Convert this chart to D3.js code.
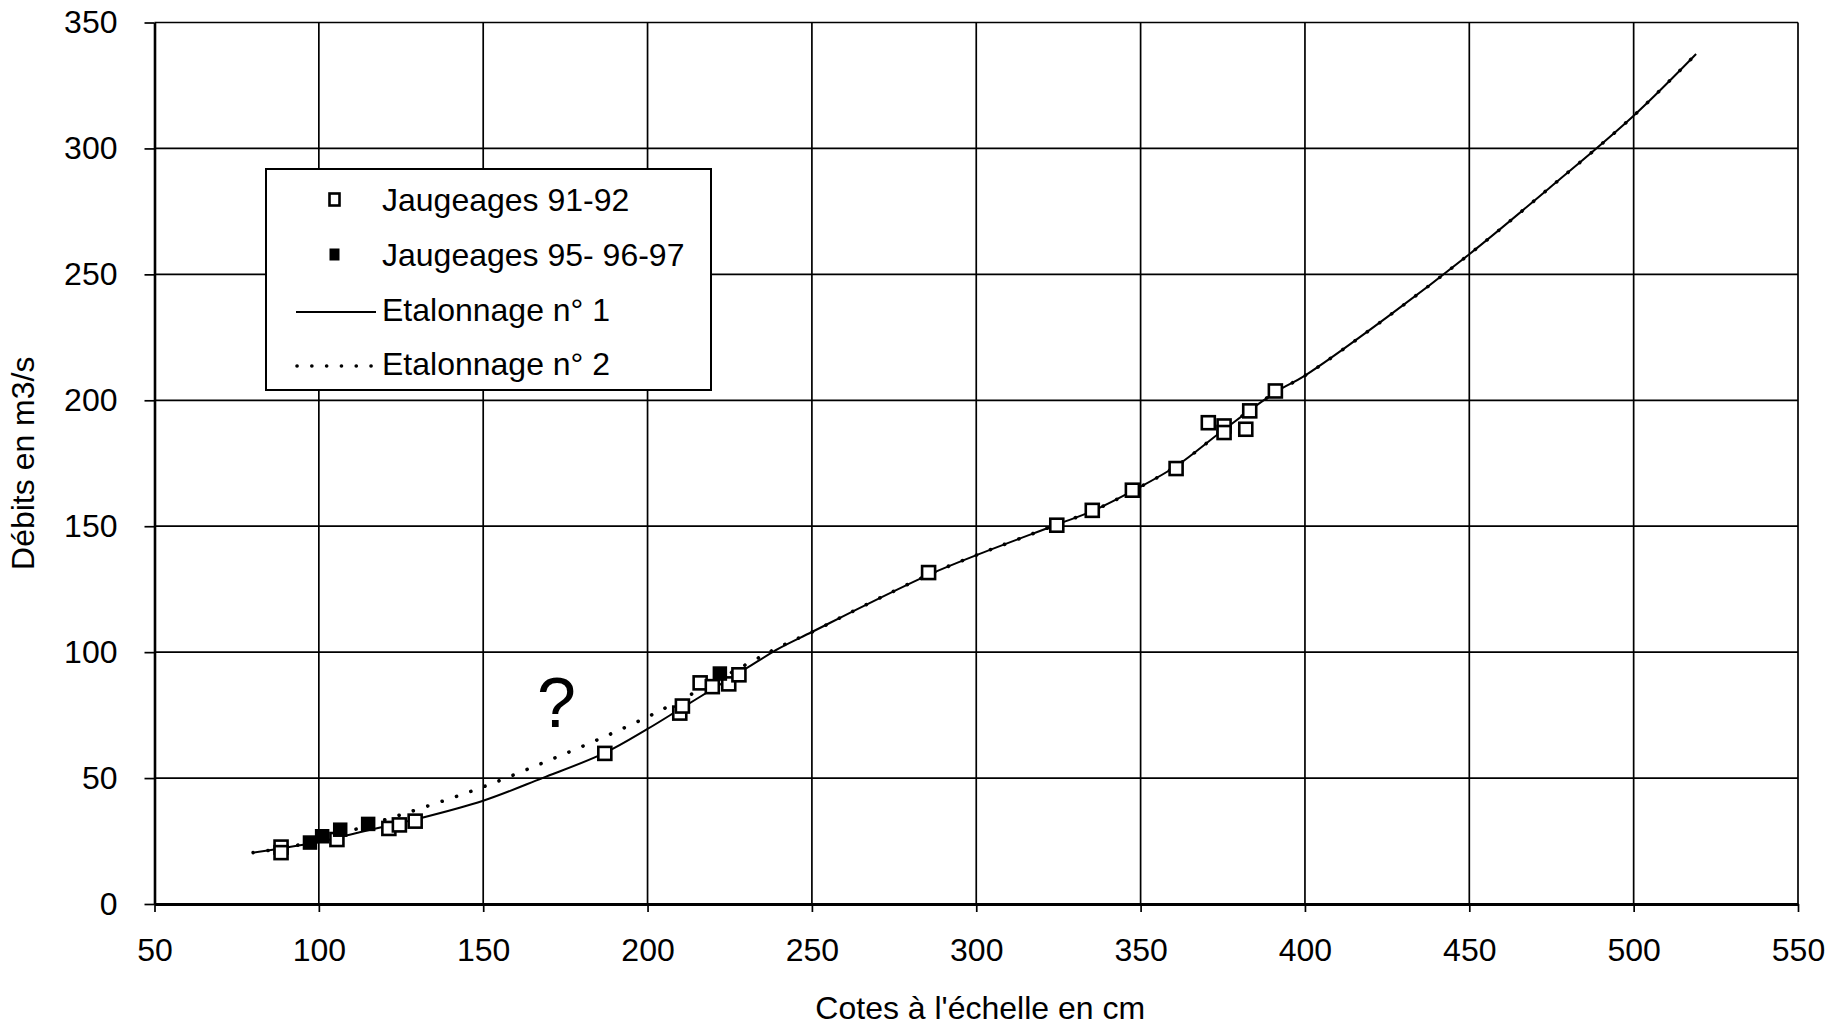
<!DOCTYPE html>
<html>
<head>
<meta charset="utf-8">
<script src="https://cdn.jsdelivr.net/npm/d3@7"></script>
<style>
  body { margin: 0; background: #fff; }
  text { font-family: "Liberation Sans", Arial, sans-serif; fill: #000; }
</style>
</head>
<body>
<svg id="chart"></svg>
<script>
// tick values
const xTicks = [50, 100, 150, 200, 250, 300, 350, 400, 450, 500, 550];
const yTicks = [0, 50, 100, 150, 200, 250, 300, 350];

// Jaugeages 91-92 (open squares)
const jaug9192X = [88.5, 88.5, 105.5, 121.3, 124.5, 129.3, 187, 209.8, 210.6, 216, 219.7, 224.7, 227.8, 285.5, 324.5, 335.3, 347.5, 360.8, 370.6, 375.4, 375.4, 382, 383.2, 391];
const jaug9192Y = [22.6, 20.4, 25.6, 30, 31.4, 32.9, 59.8, 75.8, 78.6, 87.8, 86.3, 87.4, 91, 131.6, 150.4, 156.3, 164.3, 172.9, 191.1, 189.8, 187.2, 188.5, 195.8, 203.7];

// Jaugeages 95- 96-97 (filled squares)
const jaug95X = [97.3, 101, 106.5, 115, 222];
const jaug95Y = [24.4, 26.9, 29.5, 31.8, 91.5];

// Etalonnage n° 1 (solid)
const etal1X = [80, 90, 100, 110, 120, 130, 150, 168, 187, 200, 210, 220, 230, 240, 250, 266, 286, 300, 324, 336, 348, 361, 375, 391, 400, 425, 450, 475, 500, 519];
const etal1Y = [20.4, 22.4, 24.6, 27.7, 30.8, 33.8, 41, 50, 60, 69.5, 77.5, 85.5, 93.5, 101.5, 108, 118.5, 131, 138.5, 150.4, 156.4, 164.3, 174, 188, 203.2, 209.8, 233, 258, 285, 313, 337.5];

// Etalonnage n° 2 (dotted)
const etal2X = [80, 90, 100, 110, 120, 132, 150, 168.5, 186, 200, 210, 220, 232, 240, 250, 266, 286, 300, 324, 336, 348, 361, 375, 391, 400, 425, 450, 475, 500, 519];
const etal2Y = [20.4, 22.4, 25.4, 29.2, 33.4, 38.4, 46.5, 56.2, 65.9, 74.3, 81, 88, 96.5, 102, 108, 118.5, 131, 138.5, 150.4, 156.4, 164.3, 174, 188, 203.2, 209.8, 233, 258, 285, 313, 337.5];

const legendLabels = ["Jaugeages 91-92", "Jaugeages 95- 96-97", "Etalonnage n° 1", "Etalonnage n° 2"];

const WIDTH = 1830, HEIGHT = 1030;
const MARGIN = { left: 154.5, right: 32, top: 22.5, bottom: 126 };
const FONT = 32;

let svg = d3.select('#chart')
    .attr('width', WIDTH)
    .attr('height', HEIGHT);
svg.append('rect').attr('width', WIDTH).attr('height', HEIGHT).attr('fill', '#fff');

let xScale = d3.scaleLinear()
    .domain([50, 550])
    .range([MARGIN.left, WIDTH - MARGIN.right]);
let yScale = d3.scaleLinear()
    .domain([0, 350])
    .range([HEIGHT - MARGIN.bottom, MARGIN.top]);

// grid lines
svg.append('g')
    .selectAll('line')
    .data(xTicks.slice(1))
    .join('line')
    .attr('x1', d => xScale(d)).attr('x2', d => xScale(d))
    .attr('y1', yScale(350)).attr('y2', yScale(0))
    .attr('stroke', '#000').attr('stroke-width', 1.7);
svg.append('g')
    .selectAll('line')
    .data(yTicks.slice(1))
    .join('line')
    .attr('x1', xScale(50)).attr('x2', xScale(550))
    .attr('y1', d => yScale(d)).attr('y2', d => yScale(d))
    .attr('stroke', '#000').attr('stroke-width', 1.7);

// axes
let yAxis = svg.append('g')
    .attr('transform', `translate(${xScale(50)},0)`)
    .call(d3.axisLeft(yScale).tickValues(yTicks).tickSize(10).tickPadding(27).tickSizeOuter(0));
let xAxis = svg.append('g')
    .attr('transform', `translate(0,${yScale(0)})`)
    .call(d3.axisBottom(xScale).tickValues(xTicks).tickSize(8).tickPadding(26).tickSizeOuter(0));
[xAxis, yAxis].forEach(a => {
    a.selectAll('text').attr('font-size', FONT).attr('font-family', '"Liberation Sans", Arial, sans-serif').attr('fill', '#000');
    a.selectAll('line').attr('stroke', '#000').attr('stroke-width', 1.7);
});
yAxis.select('.domain').attr('stroke', '#000').attr('stroke-width', 2.6);
xAxis.select('.domain').attr('stroke', '#000').attr('stroke-width', 3);

// axis titles
svg.append('text')
    .text("Cotes à l'échelle en cm")
    .attr('x', (xScale(50) + xScale(550)) / 2 + 4)
    .attr('y', 1019)
    .attr('text-anchor', 'middle')
    .attr('font-size', FONT);
svg.append('text')
    .text('Débits en m3/s')
    .attr('transform', `translate(33.5, ${(yScale(0) + yScale(350)) / 2}) rotate(-90)`)
    .attr('text-anchor', 'middle')
    .attr('font-size', FONT);

// curves
let line = d3.line()
    .x(d => xScale(d[0]))
    .y(d => yScale(d[1]))
    .curve(d3.curveCatmullRom.alpha(0.5));
svg.append('path')
    .datum(etal1X.map((x, i) => [x, etal1Y[i]]))
    .attr('d', line)
    .attr('fill', 'none')
    .attr('stroke', '#000')
    .attr('stroke-width', 2);
svg.append('path')
    .datum(etal2X.map((x, i) => [x, etal2Y[i]]))
    .attr('d', line)
    .attr('fill', 'none')
    .attr('stroke', '#000')
    .attr('stroke-width', 3.6)
    .attr('stroke-linecap', 'round')
    .attr('stroke-dasharray', '0.1 15');

// markers
const SQ = 13;
svg.append('g')
    .selectAll('rect')
    .data(jaug9192X.map((x, i) => [x, jaug9192Y[i]]))
    .join('rect')
    .attr('x', d => xScale(d[0]) - SQ / 2)
    .attr('y', d => yScale(d[1]) - SQ / 2)
    .attr('width', SQ).attr('height', SQ)
    .attr('fill', '#fff').attr('stroke', '#000').attr('stroke-width', 2.6);
svg.append('g')
    .selectAll('rect')
    .data(jaug95X.map((x, i) => [x, jaug95Y[i]]))
    .join('rect')
    .attr('x', d => xScale(d[0]) - SQ / 2)
    .attr('y', d => yScale(d[1]) - SQ / 2)
    .attr('width', SQ).attr('height', SQ)
    .attr('fill', '#000').attr('stroke', '#000').attr('stroke-width', 1.5);

// question mark
svg.append('text')
    .text('?')
    .attr('x', xScale(172.3))
    .attr('y', yScale(70.4))
    .attr('text-anchor', 'middle')
    .attr('font-size', 70);

// legend
let legend = svg.append('g').attr('transform', 'translate(266,169)');
legend.append('rect')
    .attr('width', 445).attr('height', 221)
    .attr('fill', '#fff').attr('stroke', '#000').attr('stroke-width', 2);
let rowY = [31, 86, 141, 195];
legend.selectAll('text')
    .data(legendLabels)
    .join('text')
    .text(d => d)
    .attr('x', 116)
    .attr('y', (d, i) => rowY[i] + 11)
    .attr('font-size', FONT);
legend.append('rect')
    .attr('x', 68 - SQ / 2 + 2).attr('y', rowY[0] - SQ / 2)
    .attr('width', SQ - 3).attr('height', SQ - 1)
    .attr('fill', '#fff').attr('stroke', '#000').attr('stroke-width', 2.6);
legend.append('rect')
    .attr('x', 68 - SQ / 2 + 2).attr('y', rowY[1] - SQ / 2)
    .attr('width', SQ - 3).attr('height', SQ - 1)
    .attr('fill', '#000');
legend.append('line')
    .attr('x1', 30).attr('x2', 110)
    .attr('y1', rowY[2] + 2).attr('y2', rowY[2] + 2)
    .attr('stroke', '#000').attr('stroke-width', 2);
legend.append('line')
    .attr('x1', 31).attr('x2', 110)
    .attr('y1', rowY[3] + 2).attr('y2', rowY[3] + 2)
    .attr('stroke', '#000').attr('stroke-width', 3.6)
    .attr('stroke-linecap', 'round')
    .attr('stroke-dasharray', '0.1 14.7');
</script>
</body>
</html>
